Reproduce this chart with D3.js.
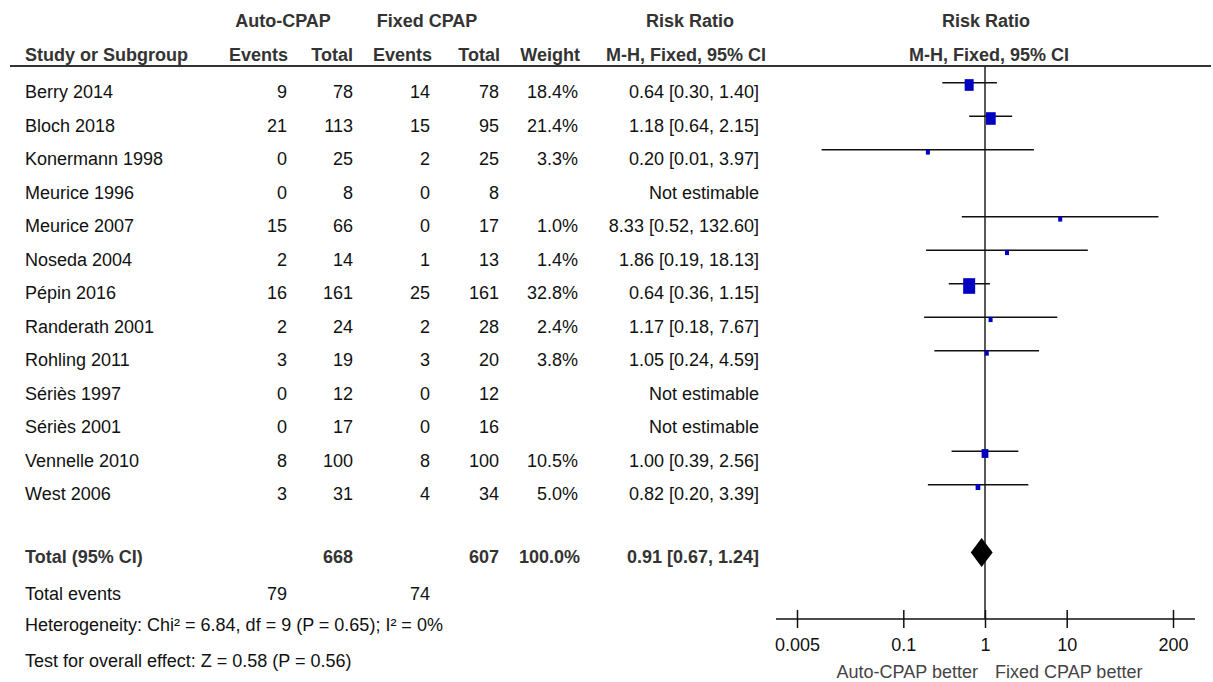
<!DOCTYPE html>
<html>
<head>
<meta charset="utf-8">
<script src="https://cdn.jsdelivr.net/npm/d3@7"></script>
<style>
  html, body { margin: 0; padding: 0; background: #fff; }
  svg { display: block; }
  text { font-family: "Liberation Sans", Arial, sans-serif; }
</style>
</head>
<body>
<svg id="chart" width="1213" height="682"></svg>
<script>
// ---------------- data ----------------
const studies = ["Berry 2014","Bloch 2018","Konermann 1998","Meurice 1996","Meurice 2007","Noseda 2004","Pépin 2016","Randerath 2001","Rohling 2011","Sériès 1997","Sériès 2001","Vennelle 2010","West 2006"];
const autoEvents  = [9, 21, 0, 0, 15, 2, 16, 2, 3, 0, 0, 8, 3];
const autoTotal   = [78, 113, 25, 8, 66, 14, 161, 24, 19, 12, 17, 100, 31];
const fixedEvents = [14, 15, 2, 0, 0, 1, 25, 2, 3, 0, 0, 8, 4];
const fixedTotal  = [78, 95, 25, 8, 17, 13, 161, 28, 20, 12, 16, 100, 34];
const weights     = [18.4, 21.4, 3.3, null, 1.0, 1.4, 32.8, 2.4, 3.8, null, null, 10.5, 5.0];
const riskRatio   = [0.64, 1.18, 0.20, null, 8.33, 1.86, 0.64, 1.17, 1.05, null, null, 1.00, 0.82];
const ciLower     = [0.30, 0.64, 0.01, null, 0.52, 0.19, 0.36, 0.18, 0.24, null, null, 0.39, 0.20];
const ciUpper     = [1.40, 2.15, 3.97, null, 132.60, 18.13, 1.15, 7.67, 4.59, null, null, 2.56, 3.39];

const totalLabel = "Total (95% CI)";
const totalAuto = 668, totalFixed = 607, totalWeight = 100.0;
const pooled = { rr: 0.91, lo: 0.67, hi: 1.24 };
const totalEventsAuto = 79, totalEventsFixed = 74;
const heterogeneityText = "Heterogeneity: Chi² = 6.84, df = 9 (P = 0.65); I² = 0%";
const overallText = "Test for overall effect: Z = 0.58 (P = 0.56)";

const axisTicks = [0.005, 0.1, 1, 10, 200];
const axisTickLabels = ["0.005", "0.1", "1", "10", "200"];
const favoursLeft = "Auto-CPAP better";
const favoursRight = "Fixed CPAP better";

// ---------------- layout ----------------
const svg = d3.select("#chart");
const FS = 18;
const cText = "#111", cBold = "#333";

const col = { study: 25, aEv: 287, aTot: 353, fEv: 430, fTot: 499, wt: 578, rr: 759 };
const rowBase = 98, rowStep = 33.5;
const rowY = i => rowBase + rowStep * i;

const x = d3.scaleLog().domain([0.005, 200]).range([797, 1173]);
const wScale = d3.scaleSqrt().domain([0, 32.8]).range([0, 12]);

function txt(xp, yp, s, opts = {}) {
  return svg.append("text")
    .attr("x", xp).attr("y", yp)
    .attr("font-size", opts.size || FS)
    .attr("font-weight", opts.bold ? "bold" : "normal")
    .attr("fill", opts.fill || (opts.bold ? cBold : cText))
    .attr("text-anchor", opts.anchor || "start")
    .text(s);
}

// headers
txt(283, 27, "Auto-CPAP", { bold: true, anchor: "middle" });
txt(427, 27, "Fixed CPAP", { bold: true, anchor: "middle" });
txt(690, 27, "Risk Ratio", { bold: true, anchor: "middle" });
txt(986, 27, "Risk Ratio", { bold: true, anchor: "middle" });

txt(col.study, 61, "Study or Subgroup", { bold: true });
txt(col.aEv + 1, 61, "Events", { bold: true, anchor: "end" });
txt(col.aTot, 61, "Total", { bold: true, anchor: "end" });
txt(col.fEv + 2, 61, "Events", { bold: true, anchor: "end" });
txt(col.fTot + 1, 61, "Total", { bold: true, anchor: "end" });
txt(col.wt + 2, 61, "Weight", { bold: true, anchor: "end" });
txt(686, 61, "M-H, Fixed, 95% CI", { bold: true, anchor: "middle" });
txt(989, 61, "M-H, Fixed, 95% CI", { bold: true, anchor: "middle" });

svg.append("line").attr("x1", 10).attr("x2", 1211).attr("y1", 66).attr("y2", 66)
  .attr("stroke", "#333").attr("stroke-width", 2);

// study rows
const fmt2 = d3.format(".2f");
studies.forEach((s, i) => {
  const y = rowY(i);
  txt(col.study, y, s);
  txt(col.aEv, y, autoEvents[i], { anchor: "end" });
  txt(col.aTot, y, autoTotal[i], { anchor: "end" });
  txt(col.fEv, y, fixedEvents[i], { anchor: "end" });
  txt(col.fTot, y, fixedTotal[i], { anchor: "end" });
  if (weights[i] != null) txt(col.wt, y, weights[i].toFixed(1) + "%", { anchor: "end" });
  const rrs = riskRatio[i] == null ? "Not estimable"
    : `${fmt2(riskRatio[i])} [${fmt2(ciLower[i])}, ${fmt2(ciUpper[i])}]`;
  txt(col.rr, y, rrs, { anchor: "end" });
});

// total rows
const yTot = 563;
txt(col.study, yTot, totalLabel, { bold: true });
txt(col.aTot, yTot, totalAuto, { bold: true, anchor: "end" });
txt(col.fTot, yTot, totalFixed, { bold: true, anchor: "end" });
txt(col.wt + 2, yTot, totalWeight.toFixed(1) + "%", { bold: true, anchor: "end" });
txt(col.rr, yTot, `${fmt2(pooled.rr)} [${fmt2(pooled.lo)}, ${fmt2(pooled.hi)}]`, { bold: true, anchor: "end" });

txt(col.study, 600, "Total events");
txt(col.aEv, 600, totalEventsAuto, { anchor: "end" });
txt(col.fEv, 600, totalEventsFixed, { anchor: "end" });
txt(col.study, 631, heterogeneityText);
txt(col.study, 667, overallText);

// forest plot
const axisY = 619;
const plot = svg.append("g");

// vertical line of no effect
plot.append("line").attr("x1", x(1)).attr("x2", x(1)).attr("y1", 66).attr("y2", axisY)
  .attr("stroke", "#222").attr("stroke-width", 1.5);

const rows = studies.map((s, i) => ({ i, rr: riskRatio[i], lo: ciLower[i], hi: ciUpper[i], w: weights[i] }))
  .filter(d => d.rr != null);

plot.selectAll("line.ci").data(rows).join("line")
  .attr("class", "ci")
  .attr("x1", d => x(d.lo)).attr("x2", d => x(d.hi))
  .attr("y1", d => rowY(d.i) - 15.3).attr("y2", d => rowY(d.i) - 15.3)
  .attr("stroke", "#111").attr("stroke-width", 1.6);

plot.selectAll("rect.sq").data(rows).join("rect")
  .attr("class", "sq")
  .attr("x", d => x(d.rr) - Math.max(4, wScale(d.w)) / 2)
  .attr("y", d => rowY(d.i) - 13 - Math.max(4, wScale(d.w)) * 1.3 / 2)
  .attr("width", d => Math.max(4, wScale(d.w)))
  .attr("height", d => Math.max(4, wScale(d.w)) * 1.3)
  .attr("fill", "#0000c0");

// pooled diamond
const dy = 552.5, dh = 14.5;
plot.append("path")
  .attr("d", `M${x(pooled.lo)},${dy} L${x(pooled.rr)},${dy - dh} L${x(pooled.hi)},${dy} L${x(pooled.rr)},${dy + dh} Z`)
  .attr("fill", "#000");

// axis
const axisG = svg.append("g").attr("transform", `translate(0,${axisY})`)
  .call(d3.axisBottom(x).tickValues(axisTicks).tickFormat((d, i) => axisTickLabels[i]).tickSize(0));
axisG.select(".domain").remove();
axisG.append("line").attr("x1", x.range()[0] - 21).attr("x2", x.range()[1] + 22)
  .attr("y1", 0).attr("y2", 0).attr("stroke", "#111").attr("stroke-width", 1.5);
axisG.selectAll(".tick line").attr("y1", -9).attr("y2", 9).attr("stroke", "#111").attr("stroke-width", 1.5);
axisG.selectAll(".tick text").attr("y", 32).attr("dy", 0)
  .attr("font-size", FS).attr("font-family", "Liberation Sans, Arial, sans-serif").attr("fill", "#111");

txt(x(1) - 7, 678, favoursLeft, { anchor: "end", fill: "#444" });
txt(x(1) + 10, 678, favoursRight, { anchor: "start", fill: "#444" });
</script>
</body>
</html>
